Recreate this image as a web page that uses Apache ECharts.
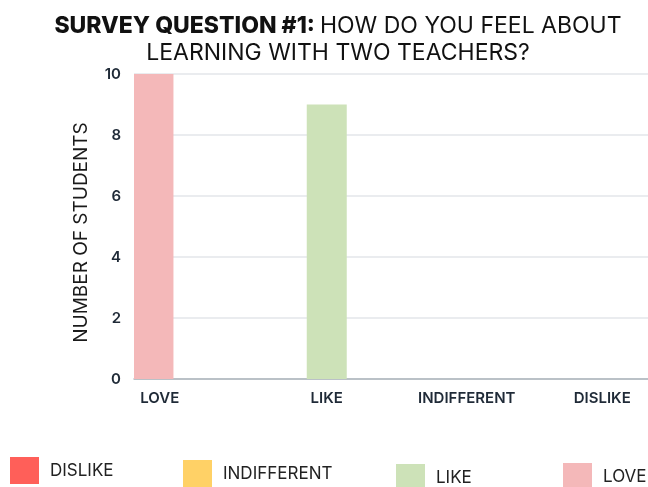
<!DOCTYPE html>
<html>
<head>
<meta charset="utf-8">
<script src="https://cdn.jsdelivr.net/npm/echarts@6/dist/echarts.min.js"></script>
<style>
  html, body { margin: 0; padding: 0; background: #ffffff; }
  #chart { width: 648px; height: 487px; }
</style>
</head>
<body>
<div id="chart"></div>
<script>
// Survey responses: how students feel about learning with two teachers
const categories = ['LOVE', 'LIKE', 'INDIFFERENT', 'DISLIKE'];
const studentCounts = [10, 9, 0, 0];
const legendOrder = ['DISLIKE', 'INDIFFERENT', 'LIKE', 'LOVE'];
const yTicks = [0, 2, 4, 6, 8, 10];

const colors = {
  LOVE: '#f4b8b9',
  LIKE: '#cde2b8',
  INDIFFERENT: '#ffd166',
  DISLIKE: '#ff5f59'
};

const FONT = 'Inter, "Noto Sans", sans-serif';
const INK = '#1f2a37';

// each response gets its own series; the value sits only in its own category
function seriesData(name) {
  return categories.map((c, i) => (c === name ? studentCounts[i] : '-'));
}

// bar slots: love, like, then the two empty responses share a slot
const stackOf = { LOVE: 'love', LIKE: 'like', INDIFFERENT: 'rest', DISLIKE: 'rest' };

const series = categories.map(name => ({
  name: name,
  type: 'bar',
  stack: stackOf[name],
  barWidth: 40,
  barGap: '12%',
  barCategoryGap: 0,
  itemStyle: { color: colors[name] },
  data: seriesData(name)
}));

// per-label horizontal nudges for the category names
const labelPad = {
  l0: [0, 77, 0, 0],
  l1: [0, 0, 0, 0],
  l2: [0, 0, 0, 23],
  l3: [0, 0, 0, 37]
};
const labelRich = {};
Object.keys(labelPad).forEach(k => {
  labelRich[k] = {
    fontFamily: FONT, fontSize: 15, fontWeight: 600, color: INK,
    padding: labelPad[k]
  };
});

// legend entries placed individually, in legendOrder
const legendLeft = [10, 183, 396, 563];
const legendTop = [457, 460, 464, 463];

const option = {
  animation: false,
  backgroundColor: '#ffffff',
  title: {
    left: 333,
    top: 8,
    textAlign: 'center',
    text: '{b|SURVEY QUESTION #1:} {r|HOW DO YOU FEEL ABOUT}\n{r|LEARNING WITH TWO TEACHERS?}',
    textStyle: {
      rich: {
        b: { fontFamily: FONT, fontSize: 23, fontWeight: 800, color: '#111111', lineHeight: 27 },
        r: { fontFamily: FONT, fontSize: 23, fontWeight: 400, color: '#111111', lineHeight: 27 }
      }
    }
  },
  legend: legendOrder.map((name, i) => ({
    data: [name],
    left: legendLeft[i],
    top: legendTop[i],
    padding: 0,
    itemWidth: 29,
    itemHeight: 27,
    icon: 'rect',
    selectedMode: false,
    textStyle: {
      fontFamily: FONT, fontSize: 17, color: '#222222',
      padding: [0, 0, 0, 6]
    }
  })),
  grid: { left: 134, right: 0, top: 74, bottom: 108, containLabel: false },
  xAxis: {
    type: 'category',
    data: categories,
    axisTick: { show: false },
    axisLine: { show: true, lineStyle: { color: '#aab3bb', width: 1.5 } },
    axisLabel: {
      interval: 0,
      margin: 12,
      formatter: (value, idx) => '{l' + idx + '|' + value + '}',
      rich: labelRich
    }
  },
  yAxis: {
    type: 'value',
    min: yTicks[0],
    max: yTicks[yTicks.length - 1],
    interval: yTicks[1] - yTicks[0],
    name: 'NUMBER OF STUDENTS',
    nameLocation: 'middle',
    nameGap: 43,
    nameTextStyle: {
      fontFamily: FONT, fontSize: 19, color: '#1a1a1a',
      padding: [0, 12, 0, 0]
    },
    axisLine: { show: false },
    axisTick: { show: false },
    axisLabel: {
      margin: 13,
      fontFamily: FONT, fontSize: 15, fontWeight: 600, color: INK
    },
    splitLine: { lineStyle: { color: '#e3e6ea', width: 1.5 } }
  },
  series: series
};

const chart = echarts.init(document.getElementById('chart'), null, { renderer: 'canvas' });
chart.setOption(option);
</script>
</body>
</html>
